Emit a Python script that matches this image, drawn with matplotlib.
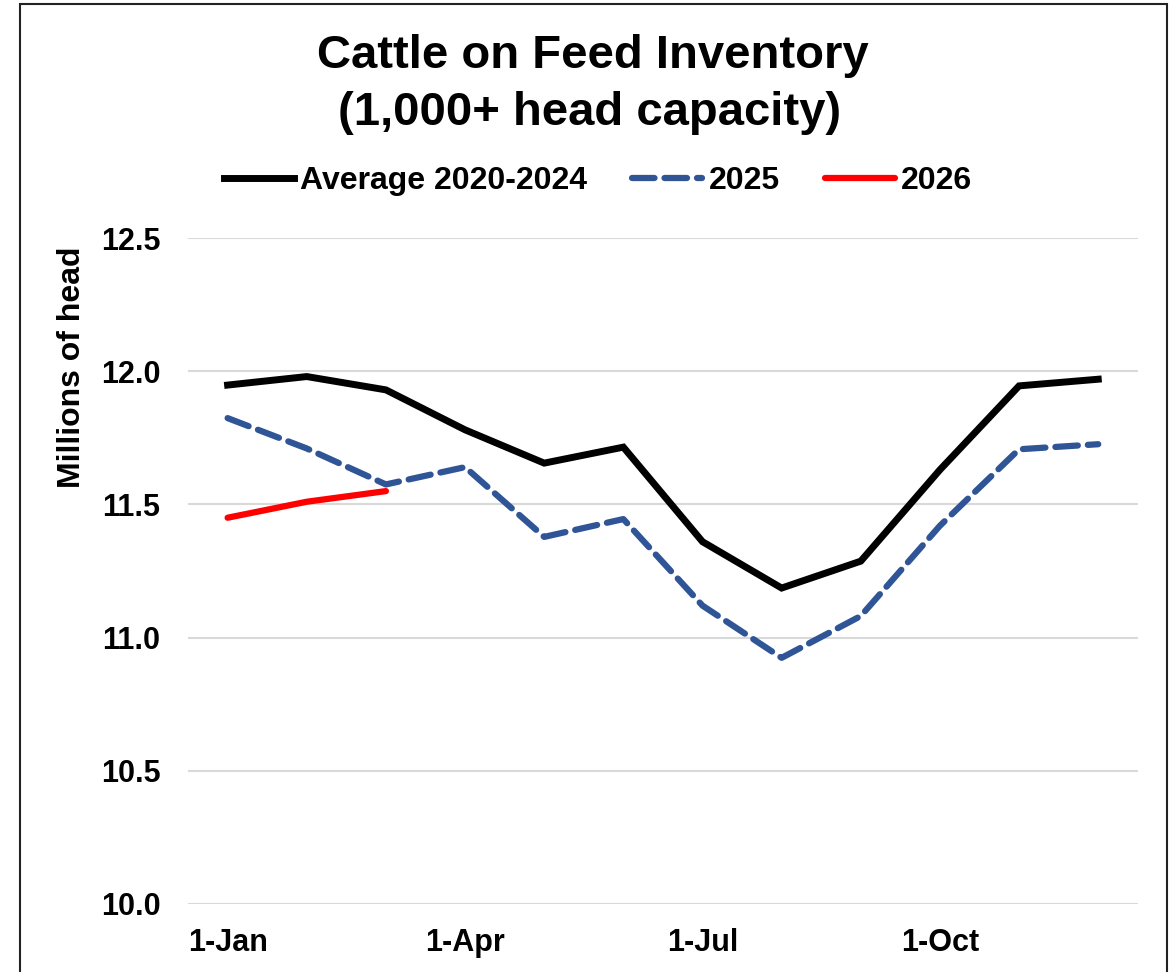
import matplotlib
matplotlib.use('Agg')
import matplotlib.pyplot as plt
from matplotlib.patches import Rectangle

plt.rcParams['font.family'] = ['Liberation Sans', 'DejaVu Sans']
plt.rcParams['font.weight'] = 'bold'

months = ['Jan', 'Feb', 'Mar', 'Apr', 'May', 'Jun', 'Jul', 'Aug', 'Sep', 'Oct', 'Nov', 'Dec']
avg_2020_2024 = [11.948, 11.98, 11.93, 11.78, 11.655, 11.715, 11.36, 11.186, 11.287, 11.63, 11.945, 11.97]
y2025 = [11.824, 11.71, 11.575, 11.64, 11.378, 11.445, 11.12, 10.924, 11.081, 11.42, 11.707, 11.726]
y2026 = [11.45, 11.51, 11.55]
tick_pos = [0, 3, 6, 9]
tick_labels = ['1-Jan', '1-Apr', '1-Jul', '1-Oct']
y_ticks = [10.0, 10.5, 11.0, 11.5, 12.0, 12.5]

fig = plt.figure(figsize=(11.73, 9.72), dpi=100)
ax = fig.add_axes([0.1603, 0.0700, 0.8097, 0.6851])

x = list(range(len(months)))
ax.plot(x, avg_2020_2024, color='black', lw=5, solid_joinstyle='miter', label='Average 2020-2024')
ax.plot(x, y2025, color='#2F5597', lw=4.5, ls=(0, (3.6, 1.6)), dash_capstyle='round', label='2025')
ax.plot(x[:len(y2026)], y2026, color='#FF0000', lw=4.5, solid_capstyle='round', label='2026')

ax.set_xlim(-0.5, 11.5)
ax.set_ylim(10.0, 12.5)
ax.set_yticks(y_ticks)
ax.set_yticklabels(['%.1f' % v for v in y_ticks], fontsize=22, fontweight='bold')
ax.set_xticks(tick_pos)
ax.set_xticklabels(tick_labels, fontsize=22, fontweight='bold')
ax.tick_params(axis='y', length=0, pad=20)
ax.tick_params(axis='x', length=0, pad=17)
ax.grid(axis='y', color='#D9D9D9', lw=1.5)
ax.set_axisbelow(True)
for s in ax.spines.values():
    s.set_visible(False)

# y label sits high on the axis, as in the source chart
ax.set_ylabel('Millions of head', fontsize=23, fontweight='bold')
ax.yaxis.set_label_coords((72 - 188) / 950, (905 - 367) / 667)
ax.yaxis.label.set_va('center')

fig.text(0.505, 1 - 68 / 972, 'Cattle on Feed Inventory', ha='center', va='baseline',
         fontsize=34, fontweight='bold')
fig.text(0.503, 1 - 125 / 972, '(1,000+ head capacity)', ha='center', va='baseline',
         fontsize=34, fontweight='bold')

leg = fig.legend(loc='center', bbox_to_anchor=(598 / 1173, 1 - 181 / 972), ncol=3,
                 frameon=False, handlelength=2.2, handletextpad=0.2,
                 columnspacing=1.4, prop={'weight': 'bold', 'size': 23})

fig.patches.append(Rectangle((20 / 1173, -0.05), 1147 / 1173, 1.05 - 4 / 972,
                             transform=fig.transFigure, fill=False, ec='#222222', lw=1.5))

fig.savefig('out.png', dpi=100)
